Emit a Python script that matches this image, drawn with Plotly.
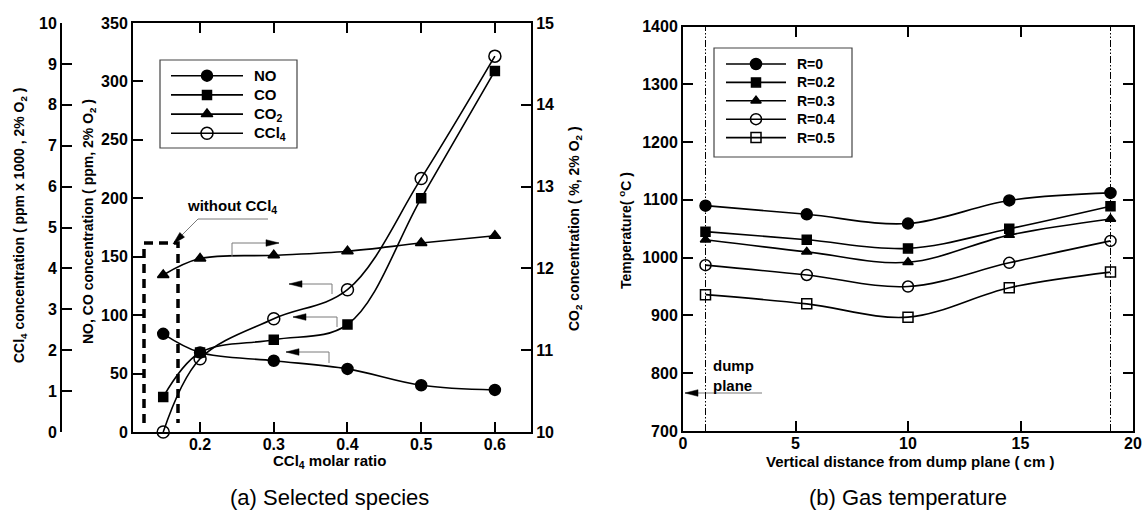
import math
import plotly.graph_objects as go

W, H = 1144, 515

# ---------------- Data: panel (a) Selected species ----------------
ccl4_ratio = [0.15, 0.2, 0.3, 0.4, 0.5, 0.6]
no_ppm = [84, 68, 61, 54, 40, 36]
co_ppm = [30, 68, 79, 92, 200, 309]
co2_pct = [11.92, 12.12, 12.16, 12.21, 12.31, 12.40]
ccl4_conc = [0.0, 1.79, 2.77, 3.48, 6.2, 9.19]
species_names = ["NO", "CO", "CO<sub>2</sub>", "CCl<sub>4</sub>"]

# ---------------- Data: panel (b) Gas temperature ----------------
distance_cm = [1, 5.5, 10, 14.5, 19]
temp_r0 = [1090, 1075, 1059, 1099, 1112]
temp_r02 = [1045, 1031, 1016, 1050, 1089]
temp_r03 = [1031, 1010, 992, 1039, 1067]
temp_r04 = [987, 970, 950, 991, 1029]
temp_r05 = [936, 920, 897, 948, 975]
r_labels = ["R=0", "R=0.2", "R=0.3", "R=0.4", "R=0.5"]
dump_planes = [1, 19]

FONT = "Liberation Sans, Arial, sans-serif"


def px(x):
    return x / W


def py(y):
    return 1 - y / H


fig = go.Figure()
line = dict(color="black", width=1.6, shape="spline")

# marker styles
sym_a = ["circle", "square", "triangle-up", "circle-open"]
size_a = [11, 9, 10, 12]
yaxes_a = ["y", "y", "y3", "y2"]
series_a = [no_ppm, co_ppm, co2_pct, ccl4_conc]

sym_b = ["circle", "square", "triangle-up", "circle-open", "square-open"]
size_b = [11, 9, 9, 11, 10]
series_b = [temp_r0, temp_r02, temp_r03, temp_r04, temp_r05]


def mk(sym, sz):
    return dict(symbol=sym, size=sz, color="black", line=dict(width=1.5, color="black"))


for vals, name, sym, sz, ya in zip(series_a, species_names, sym_a, size_a, yaxes_a):
    fig.add_trace(go.Scatter(x=ccl4_ratio, y=vals, name=name, mode="lines+markers",
                             line=line, marker=mk(sym, sz), cliponaxis=False,
                             xaxis="x", yaxis=ya, showlegend=False))

for vals, lab, sym, sz in zip(series_b, r_labels, sym_b, size_b):
    fig.add_trace(go.Scatter(x=distance_cm, y=vals, name=lab, mode="lines+markers",
                             line=line, marker=mk(sym, sz), cliponaxis=False,
                             xaxis="x2", yaxis="y4", showlegend=False))

# ---------------- legends (drawn on a hidden pixel-unit overlay axis) ----------------
legends = [
    # box (x0, x1, y0, y1), line (x0, x1), first row y, row step, text x, font size
    dict(box=(160, 297, 60, 148), seg=(171, 243), row0=75.7, step=19.2, tx=252, fs=15,
         names=species_names, syms=sym_a, sizes=size_a),
    dict(box=(714, 852, 48, 157), seg=(726, 786), row0=64, step=18.4, tx=795, fs=14,
         names=r_labels, syms=sym_b, sizes=size_b),
]
for L in legends:
    bx0, bx1, by0, by1 = L["box"]
    fig.add_shape(type="rect", x0=px(bx0), x1=px(bx1), y0=py(by0), y1=py(by1),
                  xref="paper", yref="paper", line=dict(color="#444444", width=1.2))
    sx0, sx1 = L["seg"]
    mid = (sx0 + sx1) / 2
    for i, (nm, sym, sz) in enumerate(zip(L["names"], L["syms"], L["sizes"])):
        yy = L["row0"] + i * L["step"]
        fig.add_trace(go.Scatter(x=[sx0, sx1], y=[yy, yy], mode="lines",
                                 line=dict(color="black", width=1.6), xaxis="x3", yaxis="y5",
                                 showlegend=False, hoverinfo="skip"))
        fig.add_trace(go.Scatter(x=[mid], y=[yy], mode="markers", marker=mk(sym, sz),
                                 xaxis="x3", yaxis="y5", showlegend=False, hoverinfo="skip"))
        fig.add_annotation(text=nm, x=px(L["tx"]), y=py(yy), xref="paper", yref="paper",
                           showarrow=False, xanchor="left", yanchor="middle",
                           font=dict(family=FONT, size=L["fs"], color="black", weight="bold"))

tickfont = dict(family=FONT, size=16, color="black", weight="bold")
ax_common = dict(showgrid=False, zeroline=False, showline=True, linecolor="black",
                 linewidth=2, ticks="inside", ticklen=10, tickwidth=2, tickcolor="black",
                 tickfont=tickfont)

ya_dom = [py(432), py(23)]
yb_dom = [py(431), py(26.5)]

fig.update_layout(
    width=W, height=H,
    margin=dict(l=0, r=0, t=0, b=0, autoexpand=False),
    paper_bgcolor="white", plot_bgcolor="rgba(0,0,0,0)",
    font=dict(family=FONT, color="black"),
    showlegend=False,
    xaxis=dict(domain=[px(133), px(531)], range=[0.109, 0.649],
               tickvals=[0.2, 0.3, 0.4, 0.5, 0.6], ticktext=["0.2", "0.3", "0.4", "0.5", "0.6"],
               anchor="y", mirror="ticks", ticklabelstandoff=-3, **ax_common),
    yaxis=dict(domain=ya_dom, range=[0, 350], dtick=50, anchor="x", **ax_common),
    yaxis2=dict(range=[0, 10], dtick=1, overlaying="y", anchor="free", position=px(61),
                side="left", **ax_common),
    yaxis3=dict(range=[10, 15], dtick=1, overlaying="y", anchor="x", side="right", **ax_common),
    xaxis2=dict(domain=[px(683), px(1133)], range=[0, 20], dtick=5, anchor="y4",
                mirror="ticks", ticklabelstandoff=-3, **ax_common),
    yaxis4=dict(domain=yb_dom, range=[700, 1400], dtick=100, anchor="x2",
                mirror="ticks", **ax_common),
    xaxis3=dict(domain=[0, 1], range=[0, W], visible=False, anchor="y5", fixedrange=True),
    yaxis5=dict(domain=[0, 1], range=[H, 0], visible=False, anchor="x3", fixedrange=True),
)

# ---------------- axis titles & captions as annotations ----------------
tfont = dict(family=FONT, size=14, color="black", weight="bold")
xfont = dict(family=FONT, size=15, color="black", weight="bold")
annos = [
    dict(text="CCl<sub>4</sub> concentration ( ppm x 1000 , 2% O<sub>2</sub> )", x=px(20), y=py(226), textangle=-90, font=tfont),
    dict(text="NO, CO concentration ( ppm, 2% O<sub>2</sub> )", x=px(89), y=py(222), textangle=-90, font=tfont),
    dict(text="CO<sub>2</sub> concentration ( %, 2% O<sub>2</sub> )", x=px(575), y=py(229), textangle=-90, font=tfont),
    dict(text="Temperature( <sup>o</sup>C )", x=px(625), y=py(231), textangle=-90, font=tfont),
    dict(text="CCl<sub>4</sub> molar ratio", x=px(330), y=py(461), font=xfont),
    dict(text="Vertical distance from dump plane ( cm )", x=px(910), y=py(461), font=xfont),
    dict(text="without CCl<sub>4</sub>", x=px(232), y=py(206), font=xfont),
]
for a in annos:
    fig.add_annotation(xref="paper", yref="paper", showarrow=False,
                       xanchor="center", yanchor="middle", **a)

capfont = dict(family=FONT, size=22, color="black")
for txt, cx in [("(a) Selected species", 330), ("(b) Gas temperature", 908)]:
    fig.add_annotation(text=txt, x=px(cx), y=py(497), xref="paper", yref="paper",
                       showarrow=False, font=capfont, xanchor="center", yanchor="middle")
fig.add_annotation(text="dump<br>plane", x=px(711), y=py(375), xref="paper", yref="paper",
                   showarrow=False, font=xfont, xanchor="left", yanchor="middle", align="left")

# ---------------- leader lines and arrows ----------------
GRAY = "#7a7a7a"


def path(points, close=False):
    s = "M " + " L ".join(f"{px(x)} {py(y)}" for x, y in points)
    return s + (" Z" if close else "")


leaders = [
    [(268, 219), (198, 219), (173, 244)],          # without CCl4
    [(232, 257), (232, 243), (279, 243)],          # CO2 -> right axis
    [(332, 294), (332, 284), (289, 284)],          # CCl4 -> left axis
    [(337, 327), (337, 317), (293, 317)],          # CO -> left axis
    [(329, 363), (329, 352), (286, 352)],          # NO -> left axis
    [(762, 393), (685, 393)],                      # dump plane
]
for pts in leaders:
    fig.add_shape(type="path", path=path(pts), xref="paper", yref="paper",
                  line=dict(color=GRAY, width=1))
    (ax_, ay_), (tx, ty) = pts[-2], pts[-1]
    d = math.hypot(tx - ax_, ty - ay_)
    ux, uy = (tx - ax_) / d, (ty - ay_) / d
    hl, hw = 13, 3.3
    bxp, byp = tx - ux * hl, ty - uy * hl
    tri = [(tx, ty), (bxp - uy * hw, byp + ux * hw), (bxp + uy * hw, byp - ux * hw)]
    fig.add_shape(type="path", path=path(tri, close=True), xref="paper", yref="paper",
                  fillcolor="black", line=dict(color="black", width=0.5))

# dashed "without CCl4" box
fig.add_shape(type="path", path=path([(144, 423), (144, 243), (178, 243), (178, 423)]),
              xref="paper", yref="paper", line=dict(color="black", width=3.5, dash="9px,6px"))

# dump plane positions (dash-dot-dot)
for xv in dump_planes:
    fig.add_shape(type="line", x0=xv, x1=xv, y0=0, y1=1, xref="x2", yref="y4 domain",
                  line=dict(color="black", width=1, dash="7px,2px,1.5px,2px,1.5px,2px"))

fig.write_html("out.html", config={"displayModeBar": False},
               post_script="document.body.style.margin='0px';document.body.style.overflow='hidden';")
